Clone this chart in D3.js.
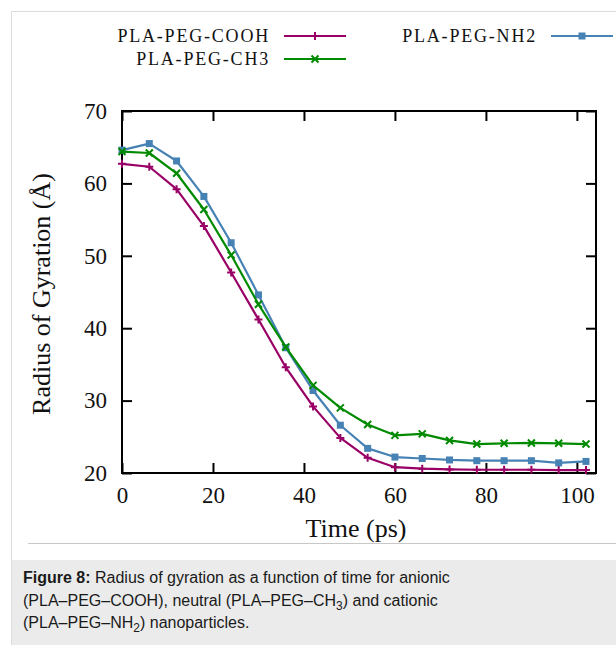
<!DOCTYPE html>
<html>
<head>
<meta charset="utf-8">
<script src="https://cdn.jsdelivr.net/npm/d3@7"></script>
<style>
  html, body { margin: 0; padding: 0; background: #fff; }
  svg { display: block; }
  .tick-text { font-family: "Liberation Serif", serif; font-size: 23px; fill: #111; }
  .axis-label { font-family: "Liberation Serif", serif; font-size: 26px; fill: #111; }
  .legend-text { font-family: "Liberation Serif", serif; font-size: 18px; letter-spacing: 1.8px; fill: #111; }
  .caption { font-family: "Liberation Sans", Arial, sans-serif; font-size: 16px; fill: #1a1a1a; }
</style>
</head>
<body>
<div id="chart"></div>
<script>
const timePs = [0, 6, 12, 18, 24, 30, 36, 42, 48, 54, 60, 66, 72, 78, 84, 90, 96, 102];
const rgCooh = [62.7, 62.3, 59.2, 54.1, 47.7, 41.2, 34.6, 29.2, 24.85, 22.1, 20.8, 20.6, 20.5, 20.45, 20.45, 20.45, 20.4, 20.4];
const rgNh2 = [64.6, 65.5, 63.1, 58.2, 51.8, 44.6, 37.3, 31.4, 26.6, 23.4, 22.2, 22.0, 21.8, 21.7, 21.7, 21.7, 21.4, 21.6];
const rgCh3 = [64.4, 64.2, 61.4, 56.4, 50.1, 43.3, 37.4, 32.1, 29.0, 26.7, 25.2, 25.4, 24.5, 24.0, 24.1, 24.15, 24.1, 24.0];
const seriesNames = ["PLA-PEG-COOH", "PLA-PEG-NH2", "PLA-PEG-CH3"];
const xTicks = [0, 20, 40, 60, 80, 100];
const yTicks = [20, 30, 40, 50, 60, 70];
const captionLines = [
  [{ t: "Figure 8:", b: true }, { t: " Radius of gyration as a function of time for anionic" }],
  [{ t: "(PLA–PEG–COOH), neutral (PLA–PEG–CH" }, { t: "3", sub: true }, { t: ") and cationic" }],
  [{ t: "(PLA–PEG–NH" }, { t: "2", sub: true }, { t: ") nanoparticles." }],
];

const width = 616;
const height = 645;
const plot = { left: 122, right: 596, top: 111, bottom: 473 };

const series = [
  { name: seriesNames[0], values: rgCooh, color: "#990066", symbol: "plus", legend: [270, 36] },
  { name: seriesNames[1], values: rgNh2, color: "#4682b4", symbol: "square", legend: [537, 36] },
  { name: seriesNames[2], values: rgCh3, color: "#008a00", symbol: "cross", legend: [270, 59] },
];

const svg = d3.select("#chart").append("svg").attr("width", width).attr("height", height);

// page frame + caption box
svg.append("rect").attr("x", 12).attr("y", 560).attr("width", width - 12).attr("height", height - 560).attr("fill", "#ebebeb");
svg.append("path").attr("d", `M11.5,${height} V11.5 H${width}`).attr("fill", "none").attr("stroke", "#dcdcdc");
svg.append("line").attr("x1", 28).attr("x2", width).attr("y1", 543.5).attr("y2", 543.5).attr("stroke", "#c8c8c8");

const x = d3.scaleLinear().domain([0, 104.2]).range([plot.left, plot.right]);
const y = d3.scaleLinear().domain([20, 70]).range([plot.bottom, plot.top]);

function styleAxis(g, showText) {
  g.select(".domain").remove();
  g.attr("font-family", null).attr("font-size", null);
  g.selectAll(".tick line").attr("stroke", "#000").attr("stroke-width", 2);
  if (showText) g.selectAll(".tick text").attr("class", "tick-text");
  else g.selectAll(".tick text").remove();
}

svg.append("g").attr("transform", `translate(0,${plot.bottom})`)
  .call(d3.axisBottom(x).tickValues(xTicks).tickSizeInner(-10).tickSizeOuter(0).tickPadding(14))
  .call((g) => styleAxis(g, true));
svg.append("g").attr("transform", `translate(0,${plot.top})`)
  .call(d3.axisTop(x).tickValues(xTicks).tickSizeInner(-10).tickSizeOuter(0))
  .call((g) => styleAxis(g, false));
svg.append("g").attr("transform", `translate(${plot.left},0)`)
  .call(d3.axisLeft(y).tickValues(yTicks).tickSizeInner(-10).tickSizeOuter(0).tickPadding(15))
  .call((g) => styleAxis(g, true));
svg.append("g").attr("transform", `translate(${plot.right},0)`)
  .call(d3.axisRight(y).tickValues(yTicks).tickSizeInner(-10).tickSizeOuter(0))
  .call((g) => styleAxis(g, false));

svg.append("rect")
  .attr("x", plot.left).attr("y", plot.top)
  .attr("width", plot.right - plot.left).attr("height", plot.bottom - plot.top)
  .attr("fill", "none").attr("stroke", "#000").attr("stroke-width", 2);

svg.append("text").attr("class", "axis-label")
  .attr("text-anchor", "middle")
  .attr("transform", `translate(50,${(plot.top + plot.bottom) / 2 + 2}) rotate(-90)`)
  .text("Radius of Gyration (Å)");

svg.append("text").attr("class", "axis-label")
  .attr("text-anchor", "middle")
  .attr("x", (plot.left + plot.right) / 2 - 3)
  .attr("y", 537)
  .text("Time (ps)");

function drawMarker(g, symbol, color, cx, cy) {
  if (symbol === "square") {
    g.append("rect").attr("x", cx - 3.5).attr("y", cy - 3.5).attr("width", 7).attr("height", 7).attr("fill", color);
  } else if (symbol === "plus") {
    g.append("path").attr("d", `M${cx - 4},${cy}H${cx + 4}M${cx},${cy - 4}V${cy + 4}`)
      .attr("stroke", color).attr("stroke-width", 2).attr("fill", "none");
  } else {
    g.append("path").attr("d", `M${cx - 3.5},${cy - 3.5}L${cx + 3.5},${cy + 3.5}M${cx - 3.5},${cy + 3.5}L${cx + 3.5},${cy - 3.5}`)
      .attr("stroke", color).attr("stroke-width", 2).attr("fill", "none");
  }
}

const line = d3.line().x((d) => x(d[0])).y((d) => y(d[1]));

series.forEach((s) => {
  const pts = timePs.map((t, i) => [t, s.values[i]]);
  const g = svg.append("g");
  g.append("path").attr("d", line(pts)).attr("fill", "none")
    .attr("stroke", s.color).attr("stroke-width", 2.2).attr("stroke-linejoin", "round");
  pts.forEach((p) => drawMarker(g, s.symbol, s.color, x(p[0]), y(p[1])));

  // legend entry
  const [lx, ly] = s.legend;
  const lg = svg.append("g");
  lg.append("text").attr("class", "legend-text").attr("x", lx).attr("y", ly + 6)
    .attr("text-anchor", "end").text(s.name);
  lg.append("line").attr("x1", lx + 14).attr("x2", lx + 76).attr("y1", ly).attr("y2", ly)
    .attr("stroke", s.color).attr("stroke-width", 2.2);
  drawMarker(lg, s.symbol, s.color, lx + 45, ly);
});

// caption
captionLines.forEach((parts, i) => {
  const t = svg.append("text").attr("class", "caption").attr("x", 23).attr("y", 583 + i * 22.5);
  parts.forEach((p, j) => {
    const ts = t.append("tspan").text(p.t);
    if (p.b) ts.attr("font-weight", "bold");
    if (p.sub) ts.attr("font-size", "12px").attr("dy", 4);
    else if (j > 0 && parts[j - 1].sub) ts.attr("dy", -4);
  });
});
</script>
</body>
</html>
